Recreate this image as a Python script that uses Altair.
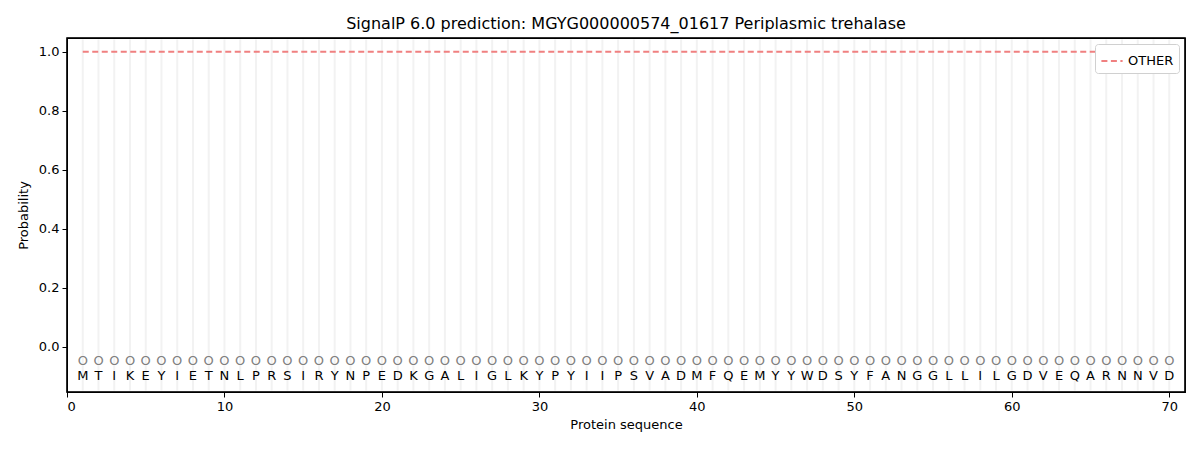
import altair as alt
import pandas as pd

sequence = list("MTIKEYIETNLPRSIRYNPEDKGALIGLKYPYIIPSVADMFQEMYYWDSYFANGGLLILGDVEQARNNVD")
positions = list(range(1, len(sequence) + 1))
other_prob = [1.0] * len(sequence)
labels = ["O"] * len(sequence)

Y_LO, Y_HI = -0.153, 1.047
W, H = 1118, 354

df = pd.DataFrame({"pos": positions, "aa": sequence, "other": other_prob, "lab": labels,
                   "series": ["OTHER"] * len(sequence)})

xs = alt.Scale(domain=[0, 71], nice=False, zero=False)
ys = alt.Scale(domain=[Y_LO, Y_HI], nice=False, zero=False)
font = "DejaVu Sans"

base = alt.Chart(df)

grid = base.mark_rule(color="#f2f2f2", strokeWidth=2).encode(
    x=alt.X("pos:Q", scale=xs,
            axis=alt.Axis(values=[0, 10, 20, 30, 40, 50, 60, 70], title="Protein sequence",
                          grid=False, tickColor="black", domainColor="black",
                          labelFont=font, titleFont=font, labelFontSize=13, titleFontSize=13,
                          titleFontWeight="normal", labelColor="black", titleColor="black",
                          tickSize=5, labelPadding=3, titlePadding=5)),
    y=alt.Y("ylo:Q", scale=ys),
    y2=alt.Y2("yhi:Q"),
).transform_calculate(ylo=str(Y_LO + 0.005), yhi=str(Y_HI - 0.005))

circles = base.mark_text(fontSize=13, color="#808080", font=font, baseline="middle").encode(
    x=alt.X("pos:Q", scale=xs),
    y=alt.Y("y:Q", scale=ys),
    text="lab:N",
).transform_calculate(y="-0.047")

letters = base.mark_text(fontSize=13, color="black", font=font, baseline="middle").encode(
    x=alt.X("pos:Q", scale=xs),
    y=alt.Y("y:Q", scale=ys),
    text="aa:N",
).transform_calculate(y="-0.1")

line = base.mark_line(strokeDash=[6, 3.5], strokeWidth=2).encode(
    x=alt.X("pos:Q", scale=xs),
    y=alt.Y("other:Q", scale=ys,
            axis=alt.Axis(values=[0.0, 0.2, 0.4, 0.6, 0.8, 1.0], format=".1f", title="Probability",
                          grid=False, tickColor="black", domainColor="black",
                          labelFont=font, titleFont=font, labelFontSize=13, titleFontSize=13,
                          titleFontWeight="normal", labelColor="black", titleColor="black",
                          tickSize=5, labelPadding=3, titlePadding=8)),
    color=alt.Color("series:N", scale=alt.Scale(domain=["OTHER"], range=["#f08080"]),
                    legend=alt.Legend(title=None, orient="top-right", offset=6,
                                      symbolType="stroke", symbolDash=[6, 3.5], symbolStrokeWidth=2,
                                      symbolSize=450, labelFont=font, labelFontSize=13,
                                      labelColor="black", fillColor="white",
                                      strokeColor="#d0d0d0", cornerRadius=3, padding=5)),
)

frame = alt.Chart(pd.DataFrame({"k": [0]})).mark_rect(
    filled=False, stroke="black", strokeWidth=1.5, fill=None
).encode(x=alt.value(0), x2=alt.value(W), y=alt.value(0), y2=alt.value(H))

chart = alt.layer(grid, line, circles, letters, frame).properties(
    width=W, height=H,
    title=alt.TitleParams("SignalP 6.0 prediction: MGYG000000574_01617 Periplasmic trehalase",
                          font=font, fontSize=16, fontWeight="normal", color="black", offset=5),
    autosize=alt.AutoSizeParams(type="none"),
    padding={"left": 59, "top": 30, "right": 7, "bottom": 50},
).configure_view(stroke="black", strokeWidth=1.2)

chart.save("out.html", embed_options={"renderer": "svg", "actions": False})
